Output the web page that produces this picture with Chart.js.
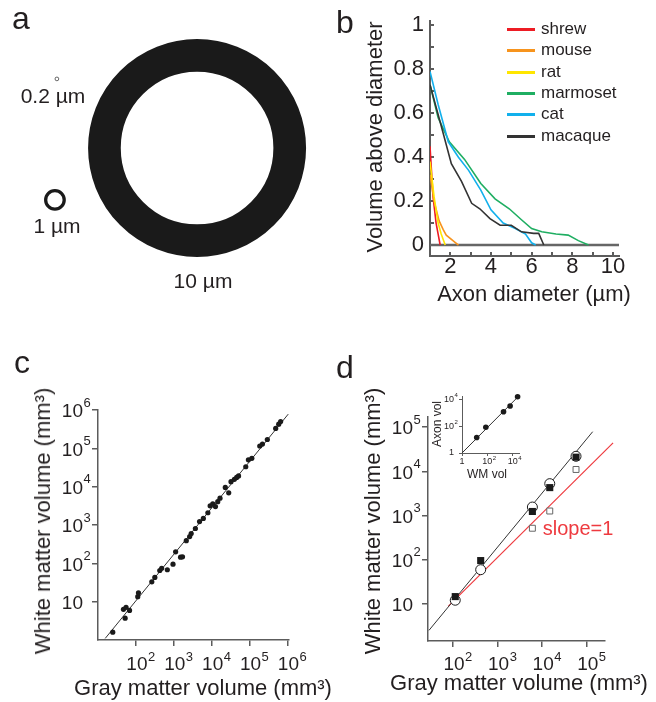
<!DOCTYPE html>
<html>
<head>
<meta charset="utf-8">
<script src="https://cdn.jsdelivr.net/npm/chart.js@4.4.1/dist/chart.umd.min.js"></script>
<style>
html, body { margin: 0; padding: 0; background: #fff; }
#fig { position: relative; width: 656px; height: 702px; overflow: hidden;
       font-family: "Liberation Sans", Arial, sans-serif; color: #231f20; }
#fig canvas { position: absolute; }
.t { position: absolute; white-space: nowrap; line-height: 1; transform: translate(-50%, -50%); }
.r { transform: translate(-50%, -50%) rotate(-90deg); }
.leg-line { position: absolute; width: 28px; height: 3px; }
.leg-text { position: absolute; white-space: nowrap; line-height: 1; font-size: 17px; transform: translateY(-50%); }
</style>
</head>
<body>
<div id="fig">
  <canvas id="chartA" width="320" height="310" style="left:0;top:0"></canvas>
  <canvas id="chartB" width="326" height="310" style="left:330px;top:0"></canvas>
  <canvas id="chartC" width="330" height="372" style="left:0;top:330px"></canvas>
  <canvas id="chartD" width="326" height="372" style="left:330px;top:330px"></canvas>
  <canvas id="chartE" width="110" height="90" style="left:420px;top:380px"></canvas>

  <div class="t" style="left:21px;top:18px;font-size:32px">a</div>
  <div class="t" style="left:345px;top:22px;font-size:32px">b</div>
  <div class="t" style="left:22px;top:362px;font-size:32px">c</div>
  <div class="t" style="left:345px;top:367px;font-size:32px">d</div>

  <div class="t" style="left:53px;top:95px;font-size:21px">0.2 µm</div>
  <div class="t" style="left:57px;top:225px;font-size:21px">1 µm</div>
  <div class="t" style="left:203px;top:280px;font-size:21px">10 µm</div>

  <div class="t" style="left:534px;top:294px;font-size:22px">Axon diameter (µm)</div>
  <div class="t r" style="left:375px;top:137px;font-size:22px">Volume above diameter</div>

  <div class="t r" style="left:43px;top:521px;font-size:22px">White matter volume (mm³)</div>
  <div class="t" style="left:203px;top:688px;font-size:22px">Gray matter volume (mm³)</div>

  <div class="t r" style="left:373px;top:521px;font-size:22px">White matter volume (mm³)</div>
  <div class="t" style="left:519px;top:683px;font-size:22px">Gray matter volume (mm³)</div>
  <div class="t" style="left:578px;top:528px;font-size:20px;color:#ee3a3f">slope=1</div>

  <div class="t r" style="left:437px;top:424px;font-size:12px">Axon vol</div>
  <div class="t" style="left:487px;top:474px;font-size:12px">WM vol</div>
</div>

<script>
// ---------- data ----------

// a: myelinated axons, outer diameter (µm) and centre (µm)
const axonDiam = [10, 1, 0.2];
const axonX = [9.04, 2.52, 2.61];
const axonY = [7.43, 5.05, 10.6];
const gRatio = 0.7;

// b: fraction of volume above a given axon diameter
const species = ['shrew', 'mouse', 'rat', 'marmoset', 'cat', 'macaque'];
const speciesColors = ['#ed1c24', '#f7941d', '#ffe600', '#1fae62', '#12b0ec', '#333333'];
const shrew = [[1, 0.45], [1.15, 0.22], [1.3, 0.1], [1.4, 0.05], [1.5, 0]];
const mouse = [[1, 0.32], [1.2, 0.2], [1.45, 0.11], [1.65, 0.07], [1.8, 0.045], [2.4, 0]];
const rat = [[1, 0.38], [1.2, 0.22], [1.4, 0.1], [1.55, 0.05], [1.75, 0]];
const marmoset = [[1, 0.73], [1.4, 0.58], [1.95, 0.47], [2.7, 0.39], [3.5, 0.28], [4.2, 0.21],
                  [4.9, 0.165], [5.5, 0.115], [6.0, 0.075], [6.5, 0.06], [7.2, 0.05], [7.8, 0.045],
                  [8.3, 0.02], [8.8, 0]];
const cat = [[1, 0.79], [1.4, 0.64], [1.9, 0.47], [2.4, 0.4], [2.9, 0.34], [3.5, 0.25], [4.0, 0.16],
             [4.6, 0.1], [5.2, 0.075], [5.7, 0.05], [6.0, 0.01], [6.2, 0]];
const macaque = [[1, 0.73], [1.5, 0.56], [2.05, 0.37], [2.55, 0.29], [3.05, 0.19], [3.45, 0.165],
                 [3.95, 0.12], [4.45, 0.09], [5.0, 0.09], [5.5, 0.06], [6.1, 0.053], [6.35, 0.053],
                 [6.6, 0]];
const zeroLine = [[1, 0], [10.3, 0]];
const diamTicks = [2, 3, 4, 5, 6, 7, 8, 9, 10];
const diamLabels = [2, 4, 6, 8, 10];
const fracTicks = [0, 0.1, 0.2, 0.3, 0.4, 0.5, 0.6, 0.7, 0.8, 0.9, 1];
const fracLabels = [0, 0.2, 0.4, 0.6, 0.8, 1];

// c: white vs gray matter volume across species (mm³)
const gmAll = [24.5, 52, 47, 55, 68, 112, 117, 263, 316, 427, 479, 676, 955, 1120, 1510, 1700,
               2140, 2630, 2880, 3720, 4790, 6030, 7940, 9120, 10700, 12600, 14500, 16600, 22900,
               28200, 32400, 39800, 45700, 51300, 79400, 93300, 115000, 186000, 219000, 295000,
               490000, 589000, 661000];
const wmAll = [1.6, 3.7, 6.3, 7.1, 5.9, 13.5, 17, 33, 43, 65, 74, 68, 95, 200, 145, 148,
               390, 500, 600, 810, 1230, 1480, 2090, 3160, 3550, 3020, 4070, 5010, 9550,
               6920, 13500, 15500, 17400, 19100, 33100, 50100, 55000, 115000, 129000, 170000,
               331000, 427000, 501000];
const fitC = [[15.5, 1.1], [1.05e6, 7.8e5]];
const decadesC = [1e2, 1e3, 1e4, 1e5, 1e6];
const decadesCy = [10, 1e2, 1e3, 1e4, 1e5, 1e6];

// d: the six species of panel b
const gmSpecies = [112, 417, 6030, 14800, 57500];
const wmSquare = [14.5, 95, 1230, 4270, 20900];
const wmCircle = [12, 59, 1550, 5250, 21900];
const gmOpen = [6030, 14800, 57500];
const wmOpen = [513, 1260, 11000];
const fitD = [[28.8, 2.49], [1.36e5, 7.9e4]];
const slopeOne = [[77.6, 8.7], [3.9e5, 4.4e4]];
const decadesD = [1e2, 1e3, 1e4, 1e5];
const decadesDy = [10, 1e2, 1e3, 1e4, 1e5];

// d inset: axon volume vs white matter volume
const wmInset = [14.5, 76, 1900, 6300, 24500];
const axonInset = [14.5, 85, 1200, 3240, 16200];
const fitInset = [[1, 1], [3.2e4, 1.9e4]];
const decadesInset = [1, 1e2, 1e4];

// ---------- helpers ----------
const FONT = '"Liberation Sans", Arial, sans-serif';
const INK = '#231f20';
const AXIS = '#5c5c5c';

const pts = arr => arr.map(p => ({x: p[0], y: p[1]}));
const zip = (xs, ys) => xs.map((x, i) => ({x: x, y: ys[i]}));
const pow10 = v => {
    const k = Math.round(Math.log10(v));
    return k === 0 ? ['1', ''] : k === 1 ? ['10', ''] : ['10', String(k)];
};
const plain = v => [String(+v.toFixed(1)), ''];

// tick labels drawn at the scale's own pixel positions (for the superscripts)
function tickText(axes) {
    return {
        id: 'tickText',
        afterDraw(chart) {
            const ctx = chart.ctx;
            ctx.save();
            ctx.textBaseline = 'middle';
            ctx.textAlign = 'left';
            ctx.fillStyle = INK;
            axes.forEach(a => {
                const s = chart.scales[a.id];
                a.values.forEach(v => {
                    const [base, exp] = a.text(v);
                    const p = s.getPixelForValue(v);
                    ctx.font = a.size + 'px ' + FONT;
                    const w = ctx.measureText(base).width;
                    let x, y;
                    if (s.isHorizontal()) {
                        x = p - w / 2 + (a.shift || 0);
                        y = s.top + a.gap;
                    } else {
                        x = s.right - a.gap - w;
                        y = p + (a.shift || 0);
                    }
                    ctx.fillText(base, x, y);
                    if (exp) {
                        ctx.font = a.supSize + 'px ' + FONT;
                        ctx.fillText(exp, x + w + 0.5, y - a.rise);
                    }
                });
            });
            ctx.restore();
        }
    };
}

// an axis with fixed size, given ticks and no built-in labels
function axis(type, min, max, ticks, size, tick, width) {
    return {
        type: type,
        min: min,
        max: max,
        bounds: 'data',
        ticks: {display: false},
        afterBuildTicks: s => { s.ticks = ticks.map(v => ({value: v})); },
        afterFit: s => { if (s.isHorizontal()) s.height = size; else s.width = size; },
        border: {display: true, color: AXIS, width: width},
        grid: {display: true, drawOnChartArea: false, drawTicks: true,
               tickLength: tick, color: AXIS, lineWidth: width}
    };
}

function base(W, H, area) {
    return {
        responsive: false,
        animation: false,
        events: [],
        layout: {padding: {left: 0, top: area.top, right: W - area.right, bottom: 0}},
        plugins: {legend: {display: false}, tooltip: {enabled: false}}
    };
}

// ---------- a: axon cross sections ----------
(function () {
    const W = 320, H = 310, umPx = 21.8;
    const opts = base(W, H, {top: 0, right: W});
    opts.scales = {
        x: {type: 'linear', min: 0, max: W / umPx, display: false},
        y: {type: 'linear', min: 0, max: H / umPx, display: false}
    };
    const unit = c => {
        const s = c.chart.scales.x;
        return s.getPixelForValue(1) - s.getPixelForValue(0);
    };
    new Chart(document.getElementById('chartA'), {
        type: 'scatter',
        data: {datasets: [{
            data: zip(axonX, axonY),
            clip: false,
            pointStyle: 'circle',
            pointBackgroundColor: '#ffffff',
            pointBorderColor: '#1a1a1a',
            pointRadius: c => axonDiam[c.dataIndex] * (1 + gRatio) / 4 * unit(c),
            pointBorderWidth: c => axonDiam[c.dataIndex] * (1 - gRatio) / 2 * unit(c)
        }]},
        options: opts
    });
})();

// ---------- b: volume above diameter ----------
(function () {
    const W = 326, H = 310, area = {left: 100, top: 21, right: 289, bottom: 256};
    const opts = base(W, H, area);
    opts.scales = {
        x: axis('linear', 1, 10.3, diamTicks, H - area.bottom, -4, 2),
        y: axis('linear', -0.05, 1.02, fracTicks, area.left, -4, 2)
    };
    const curves = [shrew, mouse, rat, marmoset, cat, macaque];
    const datasets = curves.map((c, i) => ({
        label: species[i],
        data: pts(c),
        showLine: true,
        borderColor: speciesColors[i],
        borderWidth: 1.6,
        pointRadius: 0,
        order: 6 - i
    }));
    datasets.push({
        label: 'zero',
        data: pts(zeroLine),
        showLine: true,
        borderColor: '#666666',
        borderWidth: 2.5,
        pointRadius: 0,
        order: 10
    });
    new Chart(document.getElementById('chartB'), {
        type: 'scatter',
        data: {datasets: datasets},
        options: opts,
        plugins: [tickText([
            {id: 'x', values: diamLabels, text: plain, size: 22, gap: 11},
            {id: 'y', values: fracLabels, text: plain, size: 22, gap: 6}
        ])]
    });

    // legend built from the series
    const fig = document.getElementById('fig');
    species.forEach((name, i) => {
        const y = 29.3 + 21.35 * i;
        const line = document.createElement('div');
        line.className = 'leg-line';
        line.style.left = '507px';
        line.style.top = (y - 1.5) + 'px';
        line.style.background = speciesColors[i];
        fig.appendChild(line);
        const txt = document.createElement('div');
        txt.className = 'leg-text';
        txt.style.left = '541px';
        txt.style.top = (y - 1.5) + 'px';
        txt.textContent = name;
        fig.appendChild(txt);
    });
})();

// ---------- c: white vs gray matter ----------
(function () {
    const W = 330, H = 372, area = {left: 98, top: 80, right: 289, bottom: 310};
    const opts = base(W, H, area);
    opts.scales = {
        x: axis('logarithmic', 10, 1.1e6, decadesC, H - area.bottom, 6, 1.5),
        y: axis('logarithmic', 1, 1e6, decadesCy, area.left, 6, 1.5)
    };
    new Chart(document.getElementById('chartC'), {
        type: 'scatter',
        data: {datasets: [
            {data: zip(gmAll, wmAll), pointRadius: 2.6, pointBorderWidth: 0,
             pointBackgroundColor: '#1a1a1a', clip: false, order: 1},
            {data: pts(fitC), showLine: true, pointRadius: 0, borderColor: '#333333',
             borderWidth: 1, clip: false, order: 2}
        ]},
        options: opts,
        plugins: [tickText([
            {id: 'x', values: decadesC, text: pow10, size: 19, supSize: 13, gap: 25, rise: 8, shift: 1},
            {id: 'y', values: decadesCy, text: pow10, size: 19, supSize: 13, gap: 15, rise: 9, shift: 2}
        ])]
    });
})();

// ---------- d: species with axon measurements ----------
(function () {
    const W = 326, H = 372, area = {left: 98, top: 87, right: 275, bottom: 311};
    const opts = base(W, H, area);
    opts.scales = {
        x: axis('logarithmic', 27.4, 2.57e5, decadesD, H - area.bottom, 6, 1.5),
        y: axis('logarithmic', 1.43, 1.7e5, decadesDy, area.left, 6, 1.5)
    };
    new Chart(document.getElementById('chartD'), {
        type: 'scatter',
        data: {datasets: [
            {data: zip(gmSpecies, wmSquare), pointStyle: 'rect', pointRadius: 5,
             pointBackgroundColor: '#1a1a1a', pointBorderWidth: 0, clip: false, order: 1},
            {data: zip(gmSpecies, wmCircle), pointStyle: 'circle', pointRadius: 5,
             pointBackgroundColor: '#ffffff', pointBorderColor: '#1a1a1a', pointBorderWidth: 1,
             clip: false, order: 2},
            {data: zip(gmOpen, wmOpen), pointStyle: 'rect', pointRadius: 4.2,
             pointBackgroundColor: '#ffffff', pointBorderColor: '#666666', pointBorderWidth: 1,
             clip: false, order: 3},
            {data: pts(fitD), showLine: true, pointRadius: 0, borderColor: '#333333',
             borderWidth: 1, clip: false, order: 4},
            {data: pts(slopeOne), showLine: true, pointRadius: 0, borderColor: '#ee3a3f',
             borderWidth: 1.2, clip: false, order: 5}
        ]},
        options: opts,
        plugins: [tickText([
            {id: 'x', values: decadesD, text: pow10, size: 19, supSize: 13, gap: 24, rise: 8, shift: 1},
            {id: 'y', values: decadesDy, text: pow10, size: 19, supSize: 13, gap: 15, rise: 9, shift: 2}
        ])]
    });
})();

// ---------- d inset ----------
(function () {
    const W = 110, H = 90, area = {left: 42, top: 16, right: 99, bottom: 73};
    const opts = base(W, H, area);
    opts.scales = {
        x: axis('logarithmic', 1, 3.16e4, decadesInset, H - area.bottom, 3, 1),
        y: axis('logarithmic', 1, 1.82e4, decadesInset, area.left, 3, 1)
    };
    new Chart(document.getElementById('chartE'), {
        type: 'scatter',
        data: {datasets: [
            {data: zip(wmInset, axonInset), pointRadius: 2.8, pointBorderWidth: 0,
             pointBackgroundColor: '#1a1a1a', clip: false, order: 1},
            {data: pts(fitInset), showLine: true, pointRadius: 0, borderColor: '#333333',
             borderWidth: 1, clip: false, order: 2}
        ]},
        options: opts,
        plugins: [tickText([
            {id: 'x', values: decadesInset, text: pow10, size: 9, supSize: 6, gap: 9, rise: 4},
            {id: 'y', values: decadesInset, text: pow10, size: 9, supSize: 6, gap: 8, rise: 4}
        ])]
    });
})();
</script>
</body>
</html>
